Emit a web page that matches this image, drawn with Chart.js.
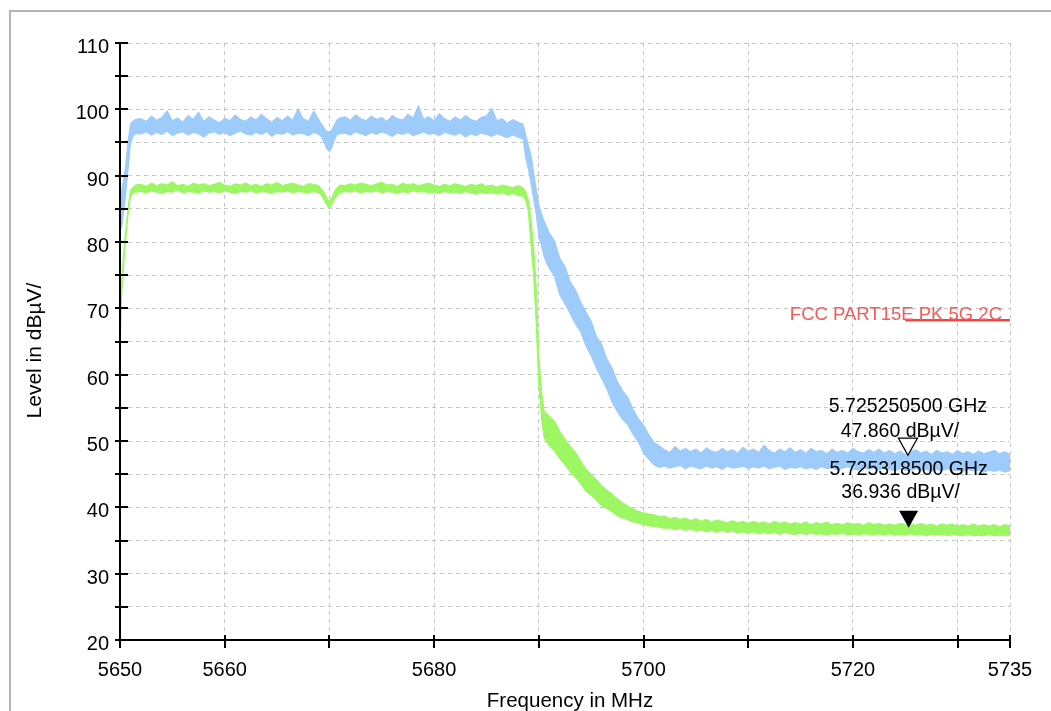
<!DOCTYPE html>
<html>
<head>
<meta charset="utf-8">
<title>Band edge – Level vs Frequency</title>
<script src="https://cdn.jsdelivr.net/npm/chart.js@4/dist/chart.umd.min.js"></script>
<style>
  html, body { margin: 0; padding: 0; background: #ffffff; }
  canvas { display: block; }
</style>
</head>
<body>
<canvas id="chart" width="1051" height="711" style="width:1051px;height:711px"></canvas>
<script>
// Sweep frequencies (MHz) shared by the trace envelopes
const freqMHz = [
  5650, 5650.15, 5650.3, 5650.5, 5650.75, 5651, 5651.25, 5651.5,
  5652, 5652.5, 5653, 5653.5, 5654, 5654.5, 5655, 5655.5, 5656, 5656.5,
  5657, 5657.5, 5658, 5658.5, 5659, 5659.5, 5660, 5660.5, 5661, 5661.5,
  5662, 5662.5, 5663, 5663.5, 5664, 5664.5, 5665, 5665.5, 5666, 5666.5,
  5667, 5667.5, 5668, 5668.5, 5669,
  5669.25, 5669.5, 5669.75, 5670, 5670.25, 5670.5, 5670.75, 5671,
  5671.5, 5672, 5672.5, 5673, 5673.5, 5674, 5674.5, 5675, 5675.5, 5676,
  5676.5, 5677, 5677.5, 5678, 5678.5, 5679, 5679.5, 5680, 5680.5, 5681,
  5681.5, 5682, 5682.5, 5683, 5683.5, 5684, 5684.5, 5685, 5685.5, 5686,
  5686.5, 5687, 5687.5, 5688, 5688.5,
  5688.75, 5689, 5689.25, 5689.5, 5689.75, 5690, 5690.25, 5690.5, 5690.75, 5691,
  5691.5, 5692, 5692.5, 5693, 5693.5, 5694, 5694.5, 5695, 5695.5, 5696,
  5696.5, 5697, 5697.5, 5698, 5698.5, 5699, 5699.5, 5700, 5700.5, 5701,
  5701.5, 5702, 5702.5, 5703, 5703.5, 5704, 5704.5, 5705, 5705.5, 5706,
  5706.5, 5707, 5707.5, 5708, 5708.5, 5709, 5709.5, 5710, 5710.5, 5711,
  5711.5, 5712, 5712.5, 5713, 5713.5, 5714, 5714.5, 5715, 5715.5, 5716,
  5716.5, 5717, 5717.5, 5718, 5718.5, 5719, 5719.5, 5720, 5720.5, 5721,
  5721.5, 5722, 5722.5, 5723, 5723.5, 5724, 5724.5, 5725, 5725.5, 5726,
  5726.5, 5727, 5727.5, 5728, 5728.5, 5729, 5729.5, 5730, 5730.5, 5731,
  5731.5, 5732, 5732.5, 5733, 5733.5, 5734, 5734.5, 5735
];

// Peak detector trace: upper and lower edge of the noise band (dBµV)
const peakUpper = [
  88.5, 87.5, 89.0, 91.0, 95.0, 97.8, 98.3, 98.5,
  98.6, 98.2, 99.0, 98.4, 98.8, 99.8, 98.3, 98.7, 98.1, 99.1,
  98.5, 99.6, 98.2, 98.9, 98.4, 98.0, 98.7, 98.3, 99.2, 98.5,
  98.2, 98.9, 98.4, 99.3, 98.6, 98.1, 98.8, 98.3, 99.0, 98.4,
  100.1, 98.6, 98.2, 99.8, 98.4,
  97.8, 97.2, 96.7, 96.6, 97.0, 97.8, 98.5, 98.7,
  98.9, 98.4, 99.2, 98.6, 98.3, 99.0, 98.5, 98.8, 98.2, 99.1,
  98.6, 98.4, 99.3, 98.7, 100.6, 98.5, 98.9, 98.3, 99.4, 98.6,
  98.2, 98.9, 98.4, 99.1, 98.5, 98.2, 98.8, 99.0, 100.2, 98.3,
  98.6, 97.9, 98.5, 98.1, 97.8,
  96.2, 94.6, 93.2, 90.6, 88.0, 85.6, 84.3, 83.2, 82.3, 81.4,
  80.2, 77.6, 76.3, 74.0, 72.8, 71.0, 69.5, 68.1, 65.8, 64.6,
  62.4, 61.0, 59.0, 57.6, 56.6, 54.8, 53.4, 52.4, 51.0, 49.8,
  49.3, 48.7, 48.3, 49.2, 48.5, 48.9, 48.4, 48.8, 48.2, 49.0,
  48.5, 48.3, 48.9, 48.4, 48.7, 48.2, 49.1, 48.5, 48.8, 48.3,
  49.4, 48.6, 48.2, 48.8, 48.4, 49.0, 48.3, 48.7, 48.2, 48.9,
  48.4, 48.6, 48.1, 48.8, 48.3, 48.6, 48.2, 48.9, 48.4, 48.2,
  48.7, 48.3, 48.8, 48.2, 48.6, 48.1, 48.5, 48.0, 48.4, 48.7,
  48.2, 48.5, 48.0, 48.6, 48.2, 48.4, 48.0, 48.6, 48.1, 48.4,
  48.0, 48.5, 48.1, 48.3, 48.6, 48.1, 48.4, 48.0
];
const peakLower = [
  83.0, 82.0, 84.0, 86.5, 90.5, 94.8, 96.0, 96.3,
  96.3, 96.6, 96.1, 96.5, 96.2, 96.7, 96.0, 96.4, 96.6, 96.1,
  96.5, 96.3, 95.8, 96.4, 96.6, 96.2, 96.5, 96.0, 96.4, 96.7,
  96.3, 96.1, 96.5, 96.2, 96.6, 95.9, 96.4, 96.2, 96.6, 96.1,
  96.4, 96.3, 96.0, 96.5, 96.2,
  95.8, 95.0, 94.0, 93.6, 94.3, 95.5, 96.2, 96.3,
  96.4, 96.1, 96.6, 96.3, 96.0, 96.5, 96.2, 96.6, 96.3, 95.9,
  96.4, 96.2, 96.5, 96.0, 96.3, 96.6, 96.2, 96.4, 96.0, 96.5,
  96.3, 96.1, 96.4, 95.8, 96.3, 96.0, 96.4, 96.2, 95.9, 96.3,
  96.0, 95.7, 96.1, 95.8, 95.5,
  92.6, 91.0, 88.8, 86.5, 84.2, 80.8, 79.4, 77.8, 76.8, 76.0,
  74.8, 72.0, 70.6, 69.2, 67.6, 66.4, 64.3, 62.8, 61.0, 59.4,
  57.8, 55.8, 54.4, 53.2, 52.4, 51.0, 49.8, 48.2, 47.2, 46.4,
  46.0, 46.2, 45.9, 46.1, 46.3, 45.8, 46.2, 46.0, 45.8, 46.2,
  45.9, 46.1, 45.7, 46.2, 45.9, 46.0, 46.2, 45.8, 46.1, 45.9,
  46.2, 45.8, 46.0, 46.2, 45.7, 46.0, 45.9, 46.1, 45.8, 46.0,
  45.7, 46.1, 45.8, 46.0, 45.6, 45.9, 46.1, 45.8, 45.6, 46.0,
  45.7, 45.9, 45.6, 45.9, 45.7, 45.5, 45.8, 45.6, 45.5, 45.8,
  45.5, 45.7, 45.4, 45.7, 45.5, 45.8, 45.5, 45.6, 45.4, 45.7,
  45.5, 45.6, 45.3, 45.6, 45.4, 45.6, 45.3, 45.5
];

// Average detector trace: upper and lower edge of the noise band (dBµV)
const avgUpper = [
  65.5, 73.5, 77.5, 81.0, 85.0, 87.8, 88.3, 88.6,
  88.7, 88.4, 88.9, 88.5, 88.8, 88.6, 89.1, 88.5, 88.7, 88.4,
  88.9, 88.6, 88.8, 88.5, 88.7, 89.0, 88.6, 88.4, 88.8, 88.6,
  88.9, 88.5, 88.7, 88.4, 88.8, 88.6, 89.0, 88.5, 88.7, 88.9,
  88.6, 88.4, 88.8, 88.7, 88.5,
  88.0, 87.5, 86.6, 86.2, 86.8, 87.7, 88.2, 88.6,
  88.5, 88.8, 88.6, 88.9, 88.7, 88.5, 88.8, 89.0, 88.6, 88.7,
  88.4, 88.9, 88.6, 88.8, 88.5, 88.7, 88.9, 88.6, 88.4, 88.7,
  88.5, 88.8, 88.6, 88.4, 88.7, 88.5, 88.8, 88.4, 88.6, 88.3,
  88.6, 88.4, 88.2, 88.5, 88.2,
  87.6, 86.4, 83.6, 79.3, 73.6, 63.0, 57.6, 54.6, 54.1, 53.8,
  53.0, 51.5, 50.3, 49.2, 48.3, 47.0, 45.8, 45.0, 44.2, 43.3,
  42.6, 42.0, 41.3, 40.7, 40.2, 39.8, 39.4, 39.2, 39.0, 38.9,
  38.6, 38.7, 38.3, 38.5, 38.2, 38.4, 38.0, 38.3, 37.9, 38.2,
  37.8, 38.1, 37.9, 37.7, 38.0, 37.7, 37.9, 37.6, 37.9, 37.6,
  37.8, 37.5, 37.9, 37.6, 37.8, 37.5, 37.7, 37.5, 37.8, 37.4,
  37.7, 37.5, 37.8, 37.4, 37.6, 37.4, 37.7, 37.4, 37.6, 37.3,
  37.7, 37.4, 37.6, 37.3, 37.5, 37.3, 37.6, 37.4, 37.5, 37.3,
  37.6, 37.3, 37.5, 37.2, 37.5, 37.3, 37.5, 37.2, 37.4, 37.2,
  37.5, 37.2, 37.4, 37.2, 37.4, 37.1, 37.4, 37.2
];
const avgLower = [
  63.3, 71.8, 75.5, 79.5, 83.8, 86.8, 87.4, 87.5,
  87.6, 87.4, 87.7, 87.5, 87.3, 87.6, 87.5, 87.8, 87.4, 87.6,
  87.5, 87.3, 87.7, 87.5, 87.6, 87.4, 87.7, 87.5, 87.3, 87.6,
  87.5, 87.7, 87.4, 87.6, 87.5, 87.3, 87.6, 87.5, 87.7, 87.4,
  87.6, 87.5, 87.4, 87.6, 87.4,
  87.0, 86.3, 85.5, 85.0, 85.7, 86.5, 87.0, 87.4,
  87.6, 87.5, 87.7, 87.4, 87.6, 87.5, 87.7, 87.4, 87.6, 87.5,
  87.3, 87.6, 87.4, 87.7, 87.5, 87.6, 87.4, 87.5, 87.3, 87.6,
  87.4, 87.5, 87.3, 87.6, 87.4, 87.2, 87.5, 87.3, 87.4, 87.2,
  87.4, 87.1, 87.3, 87.0, 86.9,
  86.2, 84.6, 79.5, 75.0, 67.5, 58.5, 53.5, 50.5, 49.8, 49.2,
  48.5, 47.3, 46.4, 45.3, 44.5, 43.5, 42.4, 41.8, 41.0, 40.2,
  39.8, 39.3, 38.7, 38.4, 38.1, 37.8, 37.6, 37.4, 37.2, 37.1,
  37.0, 36.8, 36.9, 36.6, 36.8, 36.5, 36.7, 36.4, 36.6, 36.3,
  36.5, 36.2, 36.5, 36.2, 36.4, 36.1, 36.3, 36.1, 36.3, 36.0,
  36.2, 36.0, 36.2, 35.9, 36.2, 36.0, 35.9, 36.1, 35.9, 36.1,
  35.9, 36.0, 35.8, 36.0, 35.9, 36.1, 35.8, 36.0, 35.8, 36.0,
  35.9, 35.8, 36.0, 35.8, 36.0, 35.8, 35.9, 35.8, 36.0, 35.8,
  35.9, 35.7, 35.9, 35.8, 35.9, 35.7, 35.9, 35.8, 35.7, 35.9,
  35.7, 35.8, 35.7, 35.9, 35.7, 35.8, 35.7, 35.8
];

// Limit line "FCC PART15E PK 5G 2C"
const limitName = 'FCC PART15E PK 5G 2C';
const limitFreqMHz = [5725, 5735];
const limitLevel = [68.2, 68.2];

// Markers (peak marker open, average marker filled)
const markerFreqMHz = [5725.2505, 5725.3185];
const markerLevel = [47.860, 36.936];
const markerFreqText = ['5.725250500 GHz', '5.725318500 GHz'];
const markerLevelText = ['47.860 dBµV/', '36.936 dBµV/'];

// Axis ticks and labels
const xTickValues = [5650, 5660, 5670, 5680, 5690, 5700, 5710, 5720, 5730, 5735];
const xLabelValues = [5650, 5660, 5680, 5700, 5720, 5735];
const yTickValues = [20, 25, 30, 35, 40, 45, 50, 55, 60, 65, 70, 75, 80, 85, 90, 95, 100, 105, 110];
const yLabelValues = [20, 30, 40, 50, 60, 70, 80, 90, 100, 110];
const xTitle = 'Frequency in MHz';
const yTitle = 'Level in dBµV/';

const FONT = '"Liberation Sans", Arial, Helvetica, sans-serif';
const PEAK_COLOR = '#9dcbfa';
const AVG_COLOR = '#9cf762';
const LIMIT_COLOR = '#e8474a';
const LIMIT_TEXT_COLOR = '#f85a5a';

const toPoints = (xs, ys) => xs.map((x, i) => ({ x: x, y: ys[i] }));

// Axis lines, crossing tick marks, markers, limit name and axis titles
const decorations = {
  id: 'decorations',
  beforeDraw(chart) {
    const ctx = chart.ctx;
    ctx.save();
    ctx.fillStyle = '#ffffff';
    ctx.fillRect(0, 0, chart.width, chart.height);
    ctx.strokeStyle = '#b4b4b4';
    ctx.lineWidth = 2;
    ctx.strokeRect(10, 11, chart.width + 20, chart.height + 20);
    ctx.restore();
  },
  afterDatasetsDraw(chart) {
    const ctx = chart.ctx;
    const ca = chart.chartArea;
    const xs = chart.scales.x;
    const ys = chart.scales.y;
    ctx.save();

    // axis lines
    ctx.strokeStyle = '#000000';
    ctx.lineWidth = 2;
    ctx.beginPath();
    ctx.moveTo(ca.left, ca.top);
    ctx.lineTo(ca.left, ca.bottom);
    ctx.lineTo(ca.right, ca.bottom);
    ctx.stroke();

    // tick marks crossing the axes
    ctx.beginPath();
    yTickValues.forEach(v => {
      const py = Math.round(ys.getPixelForValue(v));
      ctx.moveTo(ca.left - 5, py);
      ctx.lineTo(ca.left + 8, py);
    });
    xTickValues.forEach(v => {
      const px = Math.round(xs.getPixelForValue(v));
      ctx.moveTo(px, ca.bottom - 5);
      ctx.lineTo(px, ca.bottom + 8);
    });
    ctx.stroke();

    // limit line name
    const ly = ys.getPixelForValue(limitLevel[0]);
    ctx.fillStyle = LIMIT_TEXT_COLOR;
    ctx.font = '18.5px ' + FONT;
    ctx.textAlign = 'right';
    ctx.textBaseline = 'alphabetic';
    ctx.fillText(limitName, ca.right - 8, ly - 0.5);

    // markers: triangle tip on the marker value, readout above
    const textLift = [[43, 18], [53, 30]];
    markerFreqMHz.forEach((f, i) => {
      const mx = xs.getPixelForValue(f);
      const my = ys.getPixelForValue(markerLevel[i]);
      ctx.beginPath();
      ctx.moveTo(mx, my);
      ctx.lineTo(mx - 9.5, my - 17);
      ctx.lineTo(mx + 9.5, my - 17);
      ctx.closePath();
      if (i === 0) {
        ctx.fillStyle = '#ffffff';
        ctx.fill();
        ctx.strokeStyle = '#000000';
        ctx.lineWidth = 1.3;
        ctx.stroke();
      } else {
        ctx.fillStyle = '#000000';
        ctx.fill();
      }
      ctx.fillStyle = '#000000';
      ctx.font = '19.5px ' + FONT;
      ctx.textAlign = 'center';
      ctx.fillText(markerFreqText[i], mx, my - textLift[i][0]);
      ctx.fillText(markerLevelText[i], mx - 8, my - textLift[i][1]);
    });
    ctx.restore();
  },
  afterDraw(chart) {
    const ctx = chart.ctx;
    const ca = chart.chartArea;
    ctx.save();
    ctx.fillStyle = '#000000';
    ctx.font = '20.5px ' + FONT;
    ctx.textAlign = 'center';
    ctx.textBaseline = 'alphabetic';
    ctx.fillText(xTitle, (ca.left + ca.right) / 2 + 5, 707);
    ctx.translate(ca.left - 85, (ca.top + ca.bottom) / 2 + 9);
    ctx.rotate(-Math.PI / 2);
    ctx.textBaseline = 'middle';
    ctx.font = '21px ' + FONT;
    ctx.fillText(yTitle, 0, 0);
    ctx.restore();
  }
};

const bandStyle = (color) => ({
  borderColor: color,
  backgroundColor: color,
  borderWidth: 1,
  pointRadius: 0,
  tension: 0
});

new Chart(document.getElementById('chart'), {
  type: 'line',
  data: {
    datasets: [
      Object.assign({ label: 'Peak max', data: toPoints(freqMHz, peakUpper), fill: false }, bandStyle(PEAK_COLOR)),
      Object.assign({ label: 'Peak min', data: toPoints(freqMHz, peakLower), fill: '-1' }, bandStyle(PEAK_COLOR)),
      Object.assign({ label: 'Average max', data: toPoints(freqMHz, avgUpper), fill: false }, bandStyle(AVG_COLOR)),
      Object.assign({ label: 'Average min', data: toPoints(freqMHz, avgLower), fill: '-1' }, bandStyle(AVG_COLOR)),
      {
        label: limitName,
        data: toPoints(limitFreqMHz, limitLevel),
        borderColor: LIMIT_COLOR,
        borderWidth: 2.5,
        pointRadius: 0,
        fill: false
      }
    ]
  },
  options: {
    responsive: false,
    animation: false,
    events: [],
    layout: { padding: { top: 43, right: 41, bottom: 0, left: 0 } },
    plugins: {
      legend: { display: false },
      tooltip: { enabled: false }
    },
    scales: {
      x: {
        type: 'linear',
        min: 5650,
        max: 5735,
        afterBuildTicks: (s) => { s.ticks = xTickValues.map(v => ({ value: v })); },
        afterFit: (s) => { s.height = 71; },
        grid: { color: '#c6c6c6', lineWidth: 1, drawTicks: false },
        border: { display: false, dash: [4, 4] },
        ticks: {
          autoSkip: false,
          maxRotation: 0,
          padding: 18,
          color: '#000000',
          font: { family: FONT, size: 20 },
          callback: (v) => xLabelValues.includes(v) ? String(v) : ''
        }
      },
      y: {
        type: 'linear',
        min: 20,
        max: 110,
        afterBuildTicks: (s) => { s.ticks = yTickValues.map(v => ({ value: v })); },
        afterFit: (s) => { s.width = 120; },
        grid: { color: '#c6c6c6', lineWidth: 1, drawTicks: false },
        border: { display: false, dash: [4, 4] },
        ticks: {
          autoSkip: false,
          padding: 11,
          labelOffset: 4.5,
          color: '#000000',
          font: { family: FONT, size: 20 },
          callback: (v) => yLabelValues.includes(v) ? String(v) : ''
        }
      }
    }
  },
  plugins: [decorations]
});
</script>
</body>
</html>
